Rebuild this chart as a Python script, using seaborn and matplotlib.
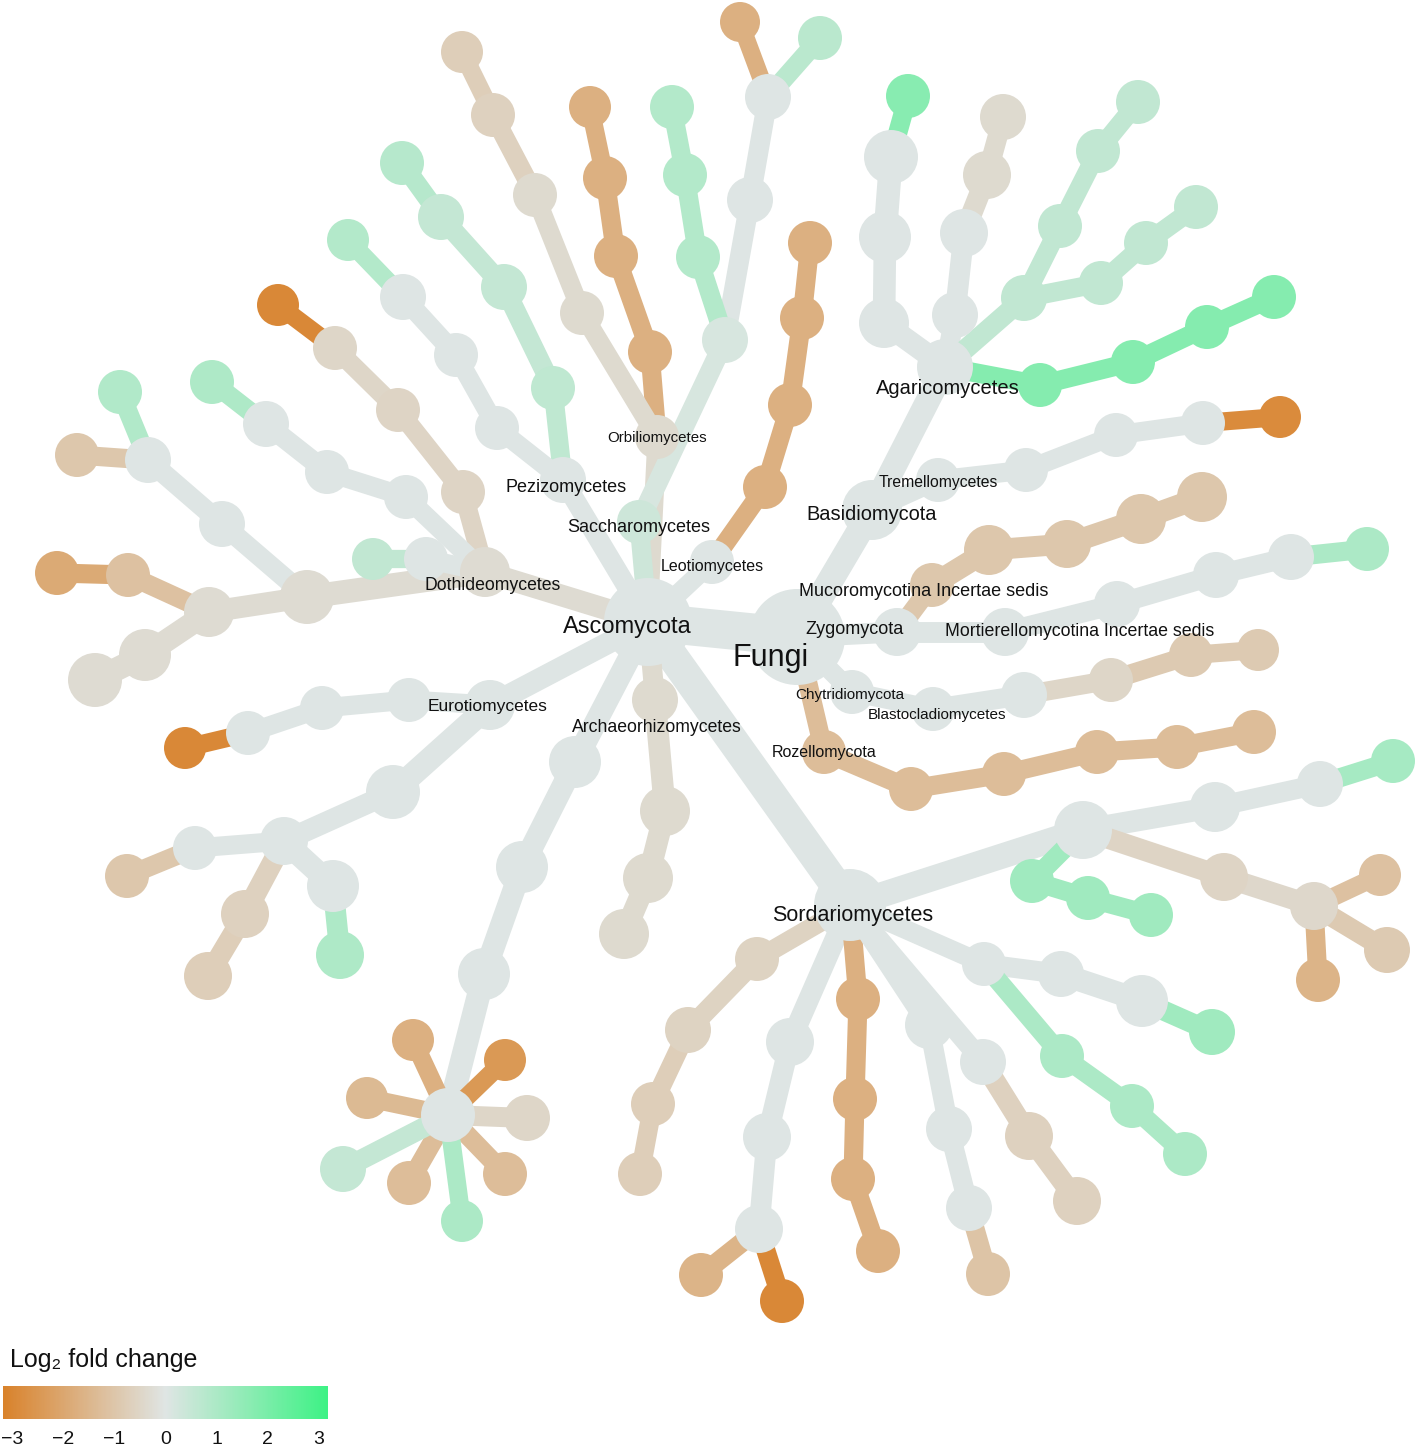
import numpy as np
import pandas as pd
import matplotlib
matplotlib.use("Agg")
import matplotlib.pyplot as plt
import seaborn as sns
from matplotlib.colors import LinearSegmentedColormap, Normalize
from matplotlib.collections import LineCollection
from matplotlib.cm import ScalarMappable

# heat tree: every node has a parent, a layout position (px), a size (px radius) and a log2 fold change
node_parent = [
    -1, 0, 1, 1, 1, 1, 1, 1, 1, 1,            # 0-9   Fungi, Ascomycota and its classes
    1, 0, 11, 11, 0, 14, 14, 0, 17, 0,        # 10-19 other phyla / classes
    3, 20, 21, 22, 3, 24, 25, 26,             # 20-27 Orbiliomycetes
    4, 28, 29, 30, 30, 28, 33, 34,            # 28-35 Saccharomycetes
    5, 36, 37, 38, 5, 40, 41, 42,             # 36-43 Pezizomycetes
    6, 44, 45, 46,                            # 44-47 Leotiomycetes
    7, 48, 49, 50, 49, 52, 48, 54, 55, 55,    # 48-57 Dothideomycetes
    7, 58, 59, 60, 7, 62, 63, 64, 7, 66,      # 58-67
    8, 68, 69, 70, 8, 72, 73, 74, 73, 76, 73, 78,   # 68-79 Eurotiomycetes
    9, 80, 81,                                # 80-82 Archaeorhizomycetes
    10, 83, 84, 85, 85, 85, 85, 85, 85, 85, 85,     # 83-93 unlabelled class
    2, 94, 95, 96, 2, 98, 99, 100, 100,       # 94-102 Sordariomycetes
    2, 103, 104, 105,                         # 103-106
    2, 107, 108, 109, 2, 111, 112,            # 107-113
    2, 114, 115, 116, 114, 118, 119,          # 114-120
    2, 121, 122, 123, 121, 125, 126, 126, 126, 121, 130, 131,   # 121-132
    12, 133, 134, 135, 12, 137, 138, 139,     # 133-140 Agaricomycetes
    12, 141, 142, 143, 141, 145, 146,         # 141-147
    12, 148, 149, 150,                        # 148-151
    13, 152, 153, 154,                        # 152-155 Tremellomycetes
    15, 156, 157, 158,                        # 156-159 Mucoromycotina
    16, 160, 161, 162,                        # 160-163 Mortierellomycotina
    18, 164, 165, 166,                        # 164-167 Blastocladiomycetes
    19, 168, 169, 170, 171,                   # 168-172 Rozellomycota
]
node_x = [
    797, 648, 850, 657, 639, 563, 712, 485, 490, 655,
    575, 872, 945, 938, 897, 932, 1005, 852, 933, 824,
    650, 616, 605, 590, 582, 535, 493, 462,
    725, 750, 768, 740, 820, 698, 685, 672,
    553, 504, 441, 402, 497, 456, 403, 348,
    765, 790, 802, 810,
    307, 209, 128, 57, 145, 95, 222, 148, 120, 77,
    463, 398, 335, 278, 406, 327, 266, 212, 426, 373,
    409, 322, 248, 185, 393, 284, 195, 127, 245, 208, 333, 340,
    665, 648, 624,
    522, 484, 448, 413, 505, 367, 527, 505, 409, 343, 462,
    757, 688, 653, 640, 790, 767, 759, 701, 782,
    858, 855, 853, 878,
    929, 949, 969, 988, 983, 1029, 1077,
    984, 1061, 1142, 1212, 1062, 1132, 1185,
    1083, 1215, 1320, 1393, 1224, 1314, 1380, 1387, 1318, 1032, 1088, 1151,
    884, 885, 891, 908, 955, 964, 987, 1003,
    1024, 1060, 1098, 1138, 1101, 1146, 1196,
    1040, 1133, 1207, 1274,
    1026, 1116, 1203, 1280,
    989, 1067, 1141, 1202,
    1117, 1216, 1291, 1367,
    1024, 1111, 1191, 1258,
    911, 1004, 1097, 1177, 1254,
]
node_y = [
    637, 622, 905, 437, 522, 480, 562, 572, 705, 700,
    762, 510, 367, 480, 632, 585, 632, 692, 709, 752,
    352, 256, 178, 107, 313, 195, 115, 52,
    340, 200, 97, 22, 38, 257, 175, 107,
    388, 287, 217, 163, 428, 355, 297, 240,
    487, 405, 318, 243,
    597, 612, 575, 573, 655, 680, 524, 460, 392, 455,
    492, 410, 348, 305, 497, 472, 424, 382, 559, 559,
    700, 708, 733, 748, 792, 841, 848, 876, 914, 976, 886, 955,
    811, 878, 934,
    867, 974, 1115, 1040, 1060, 1098, 1118, 1174, 1183, 1169, 1221,
    959, 1030, 1104, 1174, 1042, 1137, 1229, 1275, 1301,
    999, 1099, 1179, 1251,
    1025, 1129, 1208, 1274, 1062, 1136, 1201,
    964, 974, 1001, 1032, 1056, 1106, 1154,
    830, 807, 784, 761, 877, 906, 875, 950, 980, 881, 898, 915,
    323, 237, 157, 96, 315, 233, 175, 117,
    298, 226, 151, 102, 283, 243, 207,
    385, 362, 327, 297,
    470, 435, 423, 417,
    550, 544, 519, 497,
    604, 575, 557, 549,
    695, 680, 655, 650,
    789, 774, 752, 747, 732,
]
node_r = [
    48, 44, 36, 22, 22, 23, 22, 25, 25, 23,
    26, 30, 28, 22, 24, 22, 24, 22, 22, 22,
    22, 22, 22, 21, 22, 22, 22, 21,
    23, 23, 23, 20, 22, 22, 22, 22,
    22, 23, 23, 22, 22, 22, 23, 21,
    22, 22, 22, 22,
    27, 25, 22, 22, 26, 27, 23, 23, 22, 22,
    22, 22, 22, 21, 22, 22, 23, 22, 22, 21,
    22, 22, 22, 21, 27, 24, 22, 22, 24, 24, 26, 24,
    25, 25, 25,
    26, 26, 27, 21, 21, 21, 23, 22, 22, 23, 21,
    22, 23, 22, 22, 24, 24, 24, 22, 22,
    22, 22, 22, 22,
    24, 23, 23, 22, 23, 24, 24,
    22, 23, 26, 23, 22, 22, 22,
    29, 25, 23, 22, 24, 24, 21, 23, 22, 22, 22, 22,
    25, 26, 27, 22, 23, 24, 24, 23,
    23, 22, 22, 22, 22, 22, 22,
    22, 22, 22, 22,
    22, 22, 22, 21,
    25, 24, 25, 25,
    23, 23, 23, 22,
    23, 22, 22, 21,
    22, 22, 22, 22, 22,
]
node_lfc = [
    0, 0, 0, -0.33, 0.35, 0, 0, -0.3, 0, -0.35,
    0, 0, 0, 0, 0, -0.9, 0, 0, 0, -1.2,
    -1.6, -1.6, -1.6, -1.6, -0.35, -0.35, -0.6, -0.7,
    0.15, 0, 0, -1.6, 0.7, 0.8, 0.8, 0.8,
    0.6, 0.5, 0.5, 0.75, 0, 0, 0, 0.8,
    -1.6, -1.6, -1.6, -1.6,
    -0.3, -0.3, -1.1, -1.8, -0.3, -0.3, 0, 0, 0.85, -0.9,
    -0.5, -0.5, -0.45, -2.8, 0, 0, 0, 0.9, 0, 0.55,
    0, 0, 0, -2.8, 0, 0, 0, -0.9, -0.6, -0.7, 0, 0.9,
    -0.35, -0.35, -0.35,
    0, 0, 0, -1.6, -2.3, -1.3, -0.45, -1.2, -1.2, 0.5, 0.95,
    -0.55, -0.55, -0.7, -0.7, 0, 0, 0, -1.5, -2.8,
    -1.6, -1.6, -1.6, -1.6,
    0, 0, 0, -1.0, 0, -0.6, -0.6,
    0, 0, 0, 1.15, 0.95, 0.95, 0.95,
    0, 0, 0, 1.05, -0.5, -0.4, -1.1, -0.8, -1.5, 1.15, 1.15, 1.15,
    0, 0, 0, 1.6, 0, 0, -0.35, -0.35,
    0.55, 0.55, 0.55, 0.55, 0.55, 0.55, 0.55,
    1.65, 1.65, 1.65, 1.65,
    0, 0, 0, -2.7,
    -0.9, -0.9, -0.9, -0.9,
    0, 0, 0, 0.95,
    0, -0.45, -0.8, -0.8,
    -1.2, -1.2, -1.2, -1.2, -1.2,
]

# taxon labels
label_text = ['Fungi', 'Ascomycota', 'Sordariomycetes', 'Orbiliomycetes', 'Saccharomycetes',
              'Pezizomycetes', 'Leotiomycetes', 'Dothideomycetes', 'Eurotiomycetes',
              'Archaeorhizomycetes', 'Basidiomycota', 'Agaricomycetes', 'Tremellomycetes',
              'Zygomycota', 'Mucoromycotina Incertae sedis', 'Mortierellomycotina Incertae sedis',
              'Chytridiomycota', 'Blastocladiomycetes', 'Rozellomycota']
label_x = [771, 627, 853, 657, 639, 566, 712, 493, 488, 657, 872, 948, 938, 855, 924, 1080, 850, 937, 824]
label_y = [658, 627, 915, 438, 527, 488, 566, 585, 706, 728, 514, 389, 482, 629, 591, 632, 695, 715, 752]
label_size = [22, 17, 15.5, 10.8, 13, 13, 11.5, 12.7, 12.5, 12.7, 14.4, 14.5, 11.3, 13, 13, 12.8, 11, 11, 11.5]

legend_ticks = [-3, -2, -1, 0, 1, 2, 3]

sns.set_theme(style="white")
plt.rcParams['font.family'] = ['Liberation Sans', 'DejaVu Sans']

nodes = pd.DataFrame({'parent': node_parent, 'x': node_x, 'y': node_y,
                      'r': node_r, 'lfc': node_lfc})
px2pt = 72 / 100
nodes['s'] = (2 * nodes['r'] * px2pt) ** 2

cmap = LinearSegmentedColormap.from_list('lfc', ['#D9822B', '#DFE5E4', '#3DF285'])
norm = Normalize(-3, 3)

fig = plt.figure(figsize=(14.17, 14.48), dpi=100)
ax = fig.add_axes([0, 0, 1, 1])

# edges, coloured and sized by the child node
segs, cols, widths = [], [], []
for _, row in nodes.iterrows():
    p = int(row['parent'])
    if p < 0:
        continue
    segs.append([(nodes.at[p, 'x'], nodes.at[p, 'y']), (row['x'], row['y'])])
    cols.append(cmap(norm(row['lfc'])))
    widths.append(0.87 * row['r'] * px2pt)
ax.add_collection(LineCollection(segs, colors=cols, linewidths=widths,
                                 capstyle='butt', zorder=1))

smin, smax = nodes['s'].min(), nodes['s'].max()
sns.scatterplot(data=nodes, x='x', y='y', hue='lfc', palette=cmap, hue_norm=norm,
                size='s', sizes=(smin, smax), size_norm=(smin, smax),
                linewidth=0, legend=False, ax=ax, zorder=2)

for t, lx, ly, fs in zip(label_text, label_x, label_y, label_size):
    ax.text(lx, ly, t, ha='center', va='center', fontsize=fs, color='#111111', zorder=3)

ax.set_xlim(0, 1417)
ax.set_ylim(1448, 0)
ax.axis('off')

# colour legend
fig.text(10 / 1417, 1 - 1360 / 1448, 'Log₂ fold change', fontsize=18, ha='left',
         va='center', color='#111111')
cax = fig.add_axes([3 / 1417, 29 / 1448, 325 / 1417, 33 / 1448])
cb = fig.colorbar(ScalarMappable(norm=norm, cmap=cmap), cax=cax, orientation='horizontal')
cb.outline.set_visible(False)
cb.set_ticks(np.linspace(-2.83, 2.83, len(legend_ticks)))
cb.set_ticklabels([str(v).replace('-', '\u2212') for v in legend_ticks])
cax.tick_params(length=0, labelsize=14, pad=9, colors='#111111')

fig.savefig('out.png', dpi=100, facecolor='white')
